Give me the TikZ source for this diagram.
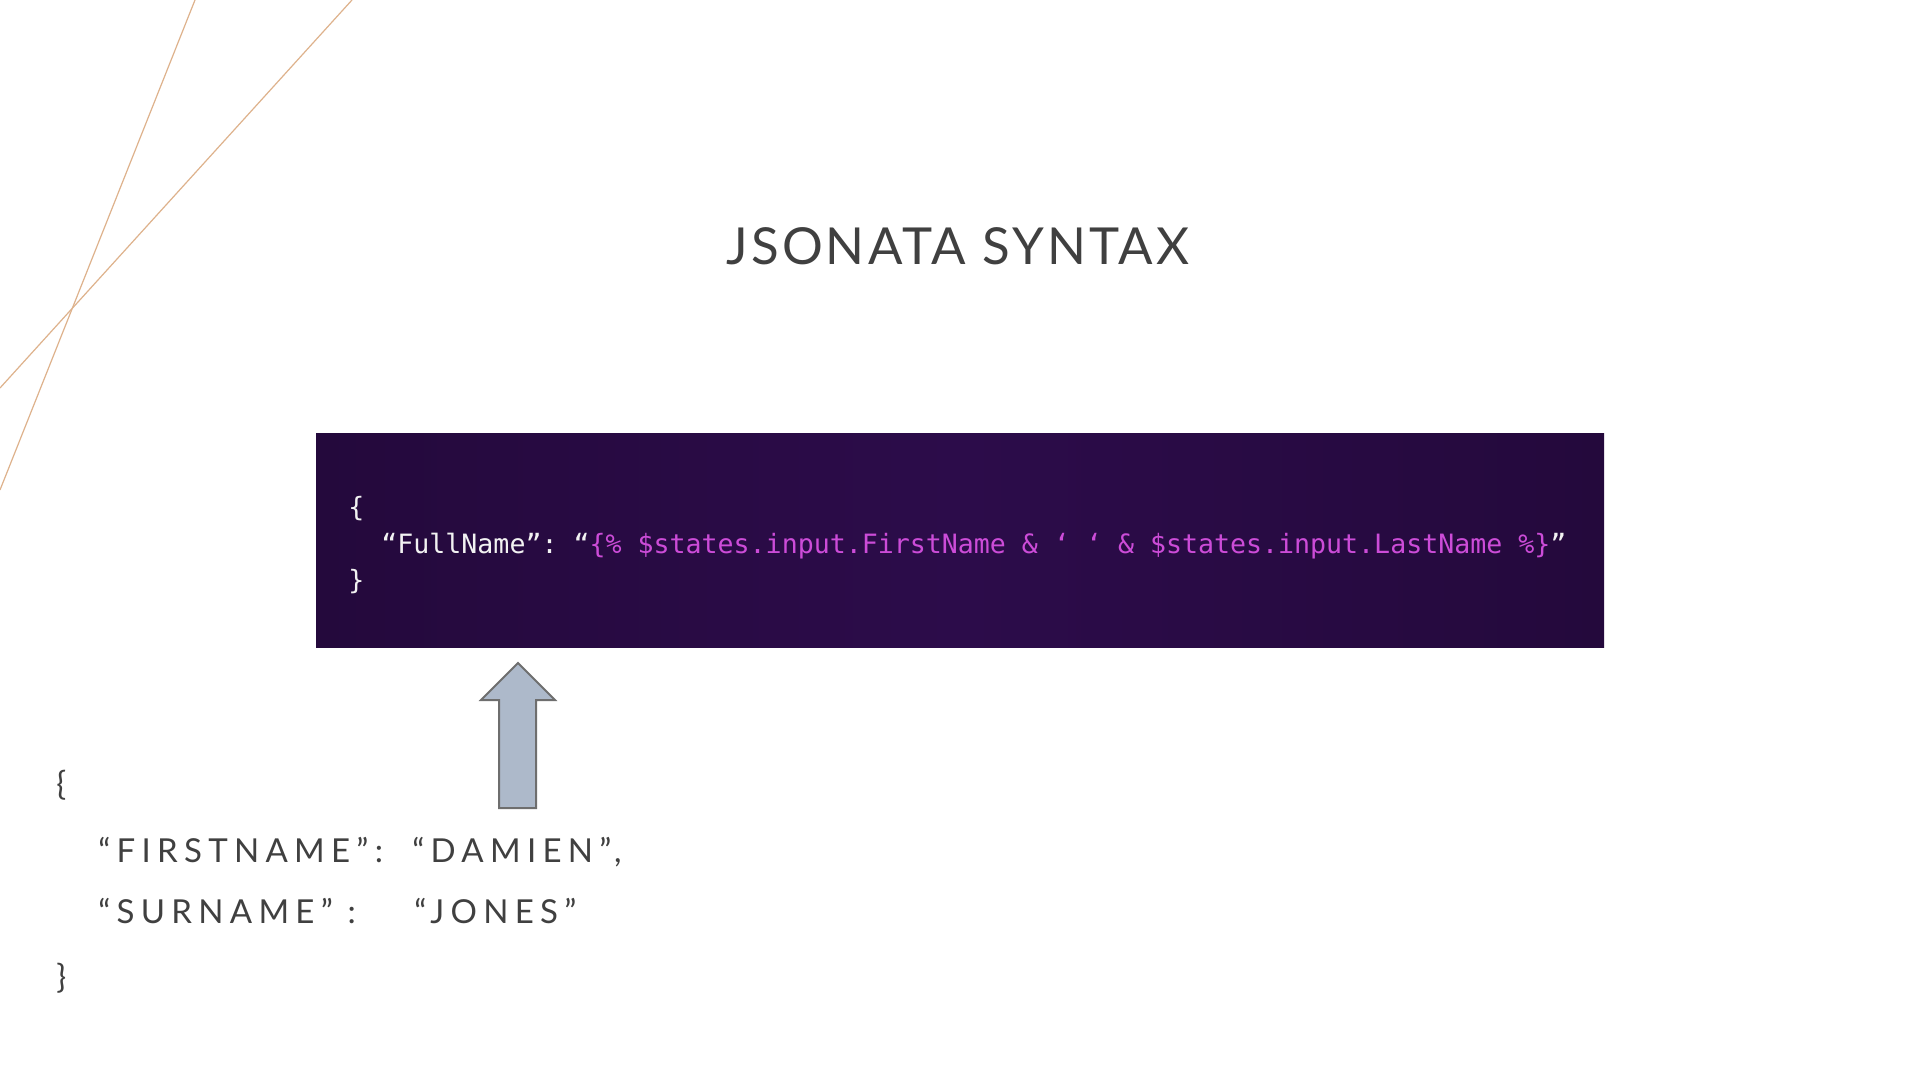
\documentclass[tikz,border=0pt]{standalone}
\usepackage{fontspec}
\setmainfont{Lato}
\setmonofont{DejaVu Sans Mono}
\newfontfamily\titlefont[LetterSpace=6]{Lato}
\newfontfamily\jsonfont[LetterSpace=19]{Lato}

\definecolor{slidegray}{RGB}{64,64,64}
\definecolor{decoline}{RGB}{222,178,140}
\definecolor{codedark}{RGB}{36,9,60}
\definecolor{codemid}{RGB}{44,12,74}
\definecolor{codewhite}{RGB}{242,242,242}
\definecolor{codepink}{RGB}{204,76,216}
\definecolor{arrowfill}{RGB}{173,185,202}
\definecolor{arrowedge}{RGB}{110,110,110}

\begin{document}
\begin{tikzpicture}[x=0.5pt, y=-0.5pt,
    title/.style={text=slidegray, inner sep=0pt, anchor=base, font=\titlefont\fontsize{25.5}{30}\selectfont},
    jsontext/.style={text=slidegray, inner sep=0pt, anchor=base west, font=\jsonfont\fontsize{16.5}{20}\selectfont},
    codetext/.style={text=codewhite, inner sep=0pt, anchor=base west, font=\ttfamily\fontsize{13.3}{17}\selectfont},
    blockarrow/.style={fill=arrowfill, draw=arrowedge, line width=1pt, line join=miter}]

    \useasboundingbox (0,0) rectangle (1920,1080);
    \fill[white] (0,0) rectangle (1920,1080);

    % thin lines in the corner
    \draw[decoline, line width=0.6pt] (195,0) -- (0,490);
    \draw[decoline, line width=0.6pt] (352,0) -- (0,388);

    \node[title] (heading) at (958,265) {JSONATA SYNTAX};

    % code screenshot
    \shade[left color=codedark, right color=codedark, middle color=codemid] (316,433) rectangle (1604,647);
    \node[codetext] (codeopen) at (348,516) {\{};
    \node[codetext] (codeline) at (381,553) {“FullName”: “\textcolor{codepink}{\{\% \$states.input.FirstName \& ‘ ‘ \& \$states.input.LastName \%\}}”};
    \node[codetext] (codeclose) at (348,589) {\}};

    % arrow
    \draw[blockarrow] (518,663) -- (555,700) -- (536,700) -- (536,808)
        -- (499,808) -- (499,700) -- (481,700) -- cycle;

    % input json
    \node[jsontext] (jsonopen) at (56,795) {\{};
    \node[jsontext] (firstkey) at (98,862) {“FIRSTNAME”:};
    \node[jsontext] (firstval) at (412,862) {“DAMIEN”,};
    \node[jsontext] (surkey) at (98,923) {“SURNAME”\ :};
    \node[jsontext] (surval) at (414,923) {“JONES”};
    \node[jsontext] (jsonclose) at (56,988) {\}};
\end{tikzpicture}
\end{document}
